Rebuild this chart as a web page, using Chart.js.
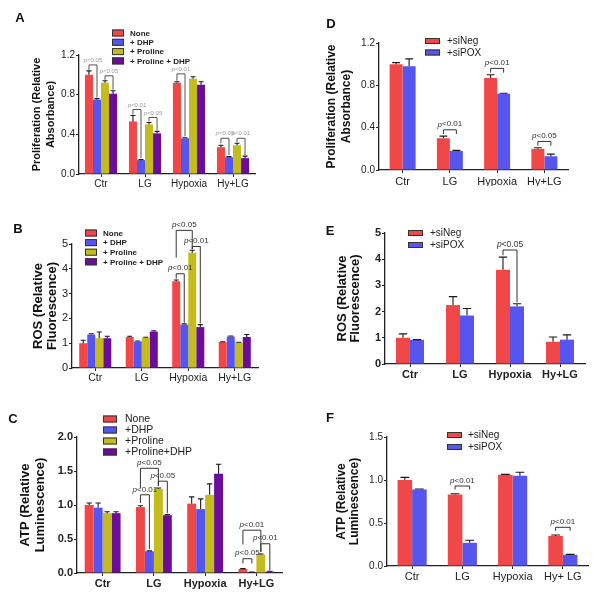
<!DOCTYPE html>
<html>
<head>
<meta charset="utf-8">
<script src="https://cdn.jsdelivr.net/npm/chart.js@4.4.1/dist/chart.umd.min.js"></script>
<style>
body{margin:0;background:#fff}
#fig{position:relative;width:601px;height:599px;overflow:hidden}
#fig canvas{position:absolute}
</style>
</head>
<body>
<div id="fig"></div>
<script>
const groups = ['Ctr','LG','Hypoxia','Hy+LG']
const groupsF = ['Ctr','LG','Hypoxia','Hy+ LG']
const prolineLegend = ['None','+ DHP','+ Proline','+ Proline + DHP']
const prolineLegendC = ['None','+DHP','+Proline','+Proline+DHP']
const siLegend = ['+siNeg','+siPOX']
const prolineColors = ['#f04848','#5656ee','#c4bc1e','#6c0c9a']
const siColors = ['#f04848','#5656ee']

// A - proliferation, proline / DHP
const aMeans = [[1.00,0.53,0.92,0.27],[0.75,0.14,0.36,0.17],[0.92,0.50,0.96,0.29],[0.81,0.41,0.90,0.16]]
const aErrs  = [[0.04,0.06,0.01,0.02],[0.01,0.005,0.005,0.005],[0.02,0.02,0.02,0.02],[0.03,0.02,0.03,0.02]]
// [group, from, to, level, left leg end, right leg end, text]
const aSig = [[0,0,1,1.10,1.05,0.77,'p<0.05'],[0,2,3,0.99,0.95,0.85,'p<0.05'],[1,0,1,0.65,0.60,0.16,'p<0.01'],
  [1,2,3,0.57,0.53,0.44,'p<0.05'],[2,0,1,1.01,0.94,0.38,'p<0.01'],[3,0,1,0.36,0.31,0.19,'p<0.05'],[3,2,3,0.36,0.32,0.19,'p<0.01']]

// B - ROS, proline / DHP
const bMeans = [[1.00,1.25,3.50,1.05],[1.35,1.07,1.75,1.27],[1.20,1.22,4.65,1.03],[1.20,1.47,1.65,1.25]]
const bErrs  = [[0.12,0.03,0.05,0.01],[0.03,0.02,0.03,0.02],[0.25,0.02,0.10,0.01],[0.08,0.03,0.10,0.10]]
const bSig = [[2,0,1,3.80,3.60,1.82,'p<0.01'],[2,0,2,5.55,4.45,4.80,'p<0.05'],[2,2,3,4.90,4.78,1.80,'p<0.01']]

// C - ATP, proline / DHP
const cMeans = [[1.00,0.97,1.02,0.06],[0.96,0.32,0.94,0.01],[0.88,1.24,1.15,0.27],[0.88,0.85,1.46,0.02]]
const cErrs  = [[0.03,0.02,0.10,0.005],[0.07,0.005,0.15,0.005],[0.02,0.01,0.16,0.01],[0.02,0.01,0.14,0.005]]
const cSig = [[1,0,1,1.15,1.03,0.35,'p<0.01'],[1,0,2,1.54,1.25,1.28,'p<0.05'],[1,2,3,1.35,1.28,0.88,'p<0.05'],
  [3,0,1,0.21,0.14,0.14,'p<0.05'],[3,0,2,0.63,0.42,0.31,'p<0.01'],[3,2,3,0.43,0.31,0.04,'p<0.01']]

// D - proliferation, siRNA
const dMeans = [[1.00,0.30,0.87,0.20],[0.98,0.18,0.72,0.13]]
const dErrs  = [[0.015,0.02,0.03,0.01],[0.07,0.005,0.005,0.02]]
const dSig = [[1,0,1,0.38,0.34,0.34,'p<0.01'],[2,0,1,0.96,0.92,0.92,'p<0.01'],[3,0,1,0.27,0.23,0.23,'p<0.05']]

// E - ROS, siRNA
const eMeans = [[1.00,2.25,3.60,0.85],[0.92,1.85,2.20,0.93]]
const eErrs  = [[0.15,0.32,0.48,0.18],[0.01,0.27,0.10,0.18]]
const eSig = [[2,0,1,4.35,4.15,2.35,'p<0.05']]

// F - ATP, siRNA
const fMeans = [[1.00,0.83,1.06,0.35],[0.89,0.27,1.05,0.13]]
const fErrs  = [[0.03,0.01,0.005,0.01],[0.005,0.03,0.04,0.005]]
const fSig = [[1,0,1,0.93,0.89,0.89,'p<0.01'],[3,0,1,0.45,0.41,0.41,'p<0.01']]

const FAM = '"Liberation Sans", Arial, sans-serif'
const ink = '#222'

const panels = [
  {letter:'A', at:[20,18], cell:[0,0,300,195], area:[79,55,255,174], labels:groups, legend:prolineLegend, colors:prolineColors,
   means:aMeans, errs:aErrs, sig:aSig, max:1.2, step:0.4, dec:1, catPct:0.73,
   title:['Proliferation (Relative','Absorbance)'], titleSize:11, titleLh:14, titleX:37,
   tick:{size:10}, label:{size:10}, lg:{x:112, y:33, gap:9.3, w:12, h:7, tx:130, font:{size:8, weight:'bold'}},
   sigFont:6, sigColor:'#999', sigLine:'#555'},
  {letter:'B', at:[18,229], cell:[0,195,300,195], area:[72,244,258,368], labels:groups, legend:prolineLegend, colors:prolineColors,
   means:bMeans, errs:bErrs, sig:bSig, max:5, step:1, dec:0, catPct:0.69,
   title:['ROS (Relative','Fluorescence)'], titleSize:13, titleLh:14, titleX:38,
   tick:{size:11}, label:{size:10.5}, lg:{x:85, y:233, gap:9.6, w:12, h:7, tx:103, font:{size:8, weight:'bold'}},
   sigFont:8, sigColor:'#333', sigLine:'#333'},
  {letter:'C', at:[13,419], cell:[0,390,300,209], area:[77,437,282,573], labels:groups, legend:prolineLegendC, colors:prolineColors,
   means:cMeans, errs:cErrs, sig:cSig, max:2, step:0.5, dec:1, catPct:0.70,
   title:['ATP (Relative','Luminescence)'], titleSize:13, titleLh:15, titleX:25,
   tick:{size:11, weight:'bold'}, label:{size:11, weight:'bold'}, lg:{x:103, y:419, gap:11, w:14, h:7, tx:125, font:{size:10.5}},
   sigFont:8, sigColor:'#333', sigLine:'#333'},
  {letter:'D', at:[331,24], cell:[300,0,301,195], area:[379,43,568,170], labels:groups, legend:siLegend, colors:siColors,
   means:dMeans, errs:dErrs, sig:dSig, max:1.2, step:0.4, dec:1, catPct:0.55,
   title:['Proliferation (Relative','Absorbance)'], titleSize:12, titleLh:15, titleX:332,
   tick:{size:10}, label:{size:11}, lg:{x:425, y:41, gap:11.5, w:15, h:6, tx:447, font:{size:10}},
   sigFont:8, sigColor:'#333', sigLine:'#333'},
  {letter:'E', at:[330,231], cell:[300,195,301,195], area:[385,233,585,364], labels:groups, legend:siLegend, colors:siColors,
   means:eMeans, errs:eErrs, sig:eSig, max:5, step:1, dec:0, catPct:0.56,
   title:['ROS (Relative','Fluorescence)'], titleSize:13, titleLh:13, titleX:342,
   tick:{size:11, weight:'bold'}, label:{size:11, weight:'bold'}, lg:{x:408, y:233, gap:12, w:15, h:6, tx:430, font:{size:10}},
   sigFont:8.5, sigColor:'#333', sigLine:'#333'},
  {letter:'F', at:[330,418], cell:[300,390,301,209], area:[387,437,588,566], labels:groupsF, legend:siLegend, colors:siColors,
   means:fMeans, errs:fErrs, sig:fSig, max:1.5, step:0.5, dec:1, catPct:0.58,
   title:['ATP (Relative','Luminescence)'], titleSize:12, titleLh:13, titleX:342,
   tick:{size:10}, label:{size:11}, lg:{x:447, y:435, gap:12, w:15, h:6, tx:468, font:{size:10}},
   sigFont:8, sigColor:'#333', sigLine:'#333'}
]

function drawP(ctx, txt, x, y, size, color){
  const it = `italic ${size}px ${FAM}`, rg = `${size}px ${FAM}`
  ctx.font = it; const w1 = ctx.measureText('p').width
  ctx.font = rg; const w2 = ctx.measureText(txt.slice(1)).width
  let x0 = x - (w1+w2)/2
  ctx.fillStyle = color; ctx.textAlign = 'left'; ctx.textBaseline = 'bottom'
  ctx.font = it; ctx.fillText('p', x0, y)
  ctx.font = rg; ctx.fillText(txt.slice(1), x0+w1, y)
}

function figPlugin(p){
  const [cx,cy] = p.cell
  return {
    id:'fig'+p.letter,
    afterDatasetsDraw(chart){
      const ctx = chart.ctx, ys = chart.scales.y
      ctx.save()
      ctx.strokeStyle = '#1a1a1a'; ctx.lineWidth = 1.1
      chart.data.datasets.forEach((ds,i)=>{
        chart.getDatasetMeta(i).data.forEach((bar,j)=>{
          const top = ys.getPixelForValue(ds.data[j] + ds.errs[j])
          const cap = Math.max(2.5, bar.width*0.3)
          ctx.beginPath()
          ctx.moveTo(bar.x, bar.y); ctx.lineTo(bar.x, top)
          ctx.moveTo(bar.x-cap, top); ctx.lineTo(bar.x+cap, top)
          ctx.stroke()
        })
      })
      ctx.strokeStyle = p.sigLine; ctx.lineWidth = 1
      p.sig.forEach(([g,s1,s2,lvl,e1,e2,txt])=>{
        const x1 = chart.getDatasetMeta(s1).data[g].x
        const x2 = chart.getDatasetMeta(s2).data[g].x
        const yl = ys.getPixelForValue(lvl)
        ctx.beginPath()
        ctx.moveTo(x1, ys.getPixelForValue(e1)); ctx.lineTo(x1, yl)
        ctx.lineTo(x2, yl); ctx.lineTo(x2, ys.getPixelForValue(e2))
        ctx.stroke()
        drawP(ctx, txt, (x1+x2)/2, yl-1.5, p.sigFont, p.sigColor)
      })
      ctx.restore()
    },
    afterDraw(chart){
      const ctx = chart.ctx, lg = p.lg
      ctx.save()
      chart.data.datasets.forEach((ds,i)=>{
        const yy = lg.y - cy + i*lg.gap
        ctx.fillStyle = ds.backgroundColor
        ctx.fillRect(lg.x-cx, yy-lg.h/2, lg.w, lg.h)
        ctx.strokeStyle = '#333'; ctx.lineWidth = 1
        ctx.strokeRect(lg.x-cx+0.5, yy-lg.h/2+0.5, lg.w-1, lg.h-1)
        ctx.fillStyle = ink
        ctx.font = `${lg.font.weight||'normal'} ${lg.font.size}px ${FAM}`
        ctx.textAlign = 'left'; ctx.textBaseline = 'middle'
        ctx.fillText(ds.label, lg.tx-cx, yy+0.5)
      })
      ctx.fillStyle = '#111'
      ctx.font = `bold 13px ${FAM}`
      ctx.textAlign = 'center'; ctx.textBaseline = 'middle'
      ctx.fillText(p.letter, p.at[0]-cx, p.at[1]-cy)
      ctx.restore()
    }
  }
}

function makePanel(p){
  const [cx,cy,cw,ch] = p.cell
  const [l,t,r,b] = p.area
  const cv = document.createElement('canvas')
  cv.width = cw; cv.height = ch
  cv.style.left = cx+'px'; cv.style.top = cy+'px'
  document.querySelector('#fig').appendChild(cv)
  const yW = l - (p.titleX - p.titleLh/2)
  const xH = 16
  new Chart(cv, {
    type:'bar',
    data:{
      labels:p.labels,
      datasets:p.means.map((m,i)=>({label:p.legend[i], data:m, errs:p.errs[i], backgroundColor:p.colors[i], borderWidth:0}))
    },
    options:{
      responsive:false, animation:false,
      layout:{padding:{left:l-cx-yW, top:t-cy, right:cx+cw-r, bottom:cy+ch-b-xH}},
      plugins:{legend:{display:false}, tooltip:{enabled:false}},
      datasets:{bar:{barPercentage:1, categoryPercentage:p.catPct}},
      scales:{
        x:{
          afterFit(s){ s.height = xH },
          grid:{display:true, drawOnChartArea:false, offset:false, tickLength:3, color:ink},
          border:{color:ink, width:1.3},
          ticks:{color:ink, padding:p.letter=='D'?2:1, maxRotation:0, autoSkip:false,
            font:{family:FAM, size:p.label.size, weight:p.label.weight||'normal'}}
        },
        y:{
          min:0, max:p.max,
          afterFit(s){ s.width = yW },
          grid:{drawOnChartArea:false, tickLength:3, color:ink},
          border:{color:ink, width:1.3},
          ticks:{stepSize:p.step, color:ink, padding:1, callback:v=>v.toFixed(p.dec),
            font:{family:FAM, size:p.tick.size, weight:p.tick.weight||'normal'}},
          title:{display:true, text:p.title, color:'#111', padding:0,
            font:{family:FAM, size:p.titleSize, weight:'bold', lineHeight:p.titleLh+'px'}}
        }
      }
    },
    plugins:[figPlugin(p)]
  })
}

panels.forEach(makePanel)
</script>
</body>
</html>
